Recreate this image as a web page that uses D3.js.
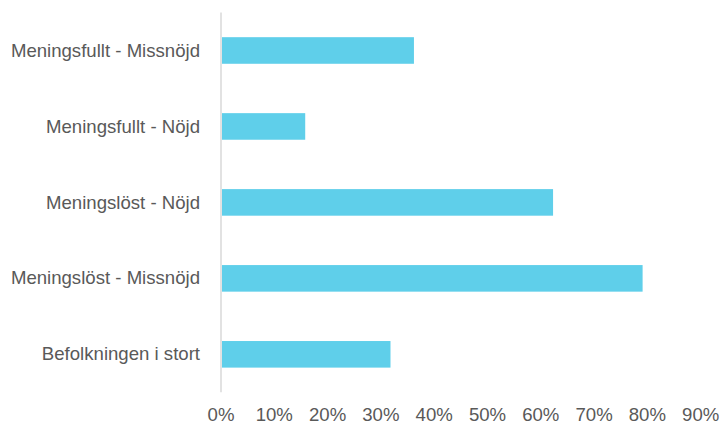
<!DOCTYPE html>
<html><head><meta charset="utf-8">
<script src="https://cdn.jsdelivr.net/npm/d3@7"></script>
<style>body{margin:0;background:#fff}svg{display:block}</style>
</head><body>
<svg id="c" width="723" height="425"></svg>
<script>
const categories = ["Meningsfullt - Missnöjd","Meningsfullt - Nöjd","Meningslöst - Nöjd","Meningslöst - Missnöjd","Befolkningen i stort"];
const values = [0.362, 0.158, 0.623, 0.791, 0.318];
const ticks = [0,0.1,0.2,0.3,0.4,0.5,0.6,0.7,0.8,0.9];

const svg = d3.select("#c");
const font = "'Liberation Sans', Arial, Helvetica, sans-serif";
const x = d3.scaleLinear().domain([0,0.9]).range([221,700.7]);
const y = d3.scaleBand().domain(categories).range([12.5,392.3]).paddingInner(0.65).paddingOuter(0.325);

svg.selectAll("rect.bar").data(categories).join("rect")
  .attr("class","bar")
  .attr("x", x(0)+1)
  .attr("y", d=>y(d))
  .attr("width", (d,i)=>x(values[i])-x(0)-1)
  .attr("height", y.bandwidth())
  .attr("fill","#5fcfea");

svg.append("line").attr("x1",x(0)).attr("x2",x(0)).attr("y1",12.5).attr("y2",392.3)
  .attr("stroke","#d9d9d9").attr("stroke-width",1.5);

svg.selectAll("text.cat").data(categories).join("text")
  .attr("class","cat")
  .attr("x", 200).attr("y", d=>y(d)+y.bandwidth()/2).attr("dy","0.33em")
  .attr("text-anchor","end").attr("font-family",font).attr("font-size",18.6)
  .attr("fill","#595959").text(d=>d);

svg.selectAll("text.tick").data(ticks).join("text")
  .attr("class","tick")
  .attr("x", d=>x(d)).attr("y", 421)
  .attr("text-anchor","middle").attr("font-family",font).attr("font-size",18.6)
  .attr("fill","#595959").text(d=>d3.format(".0%")(d));
</script>
</body></html>
